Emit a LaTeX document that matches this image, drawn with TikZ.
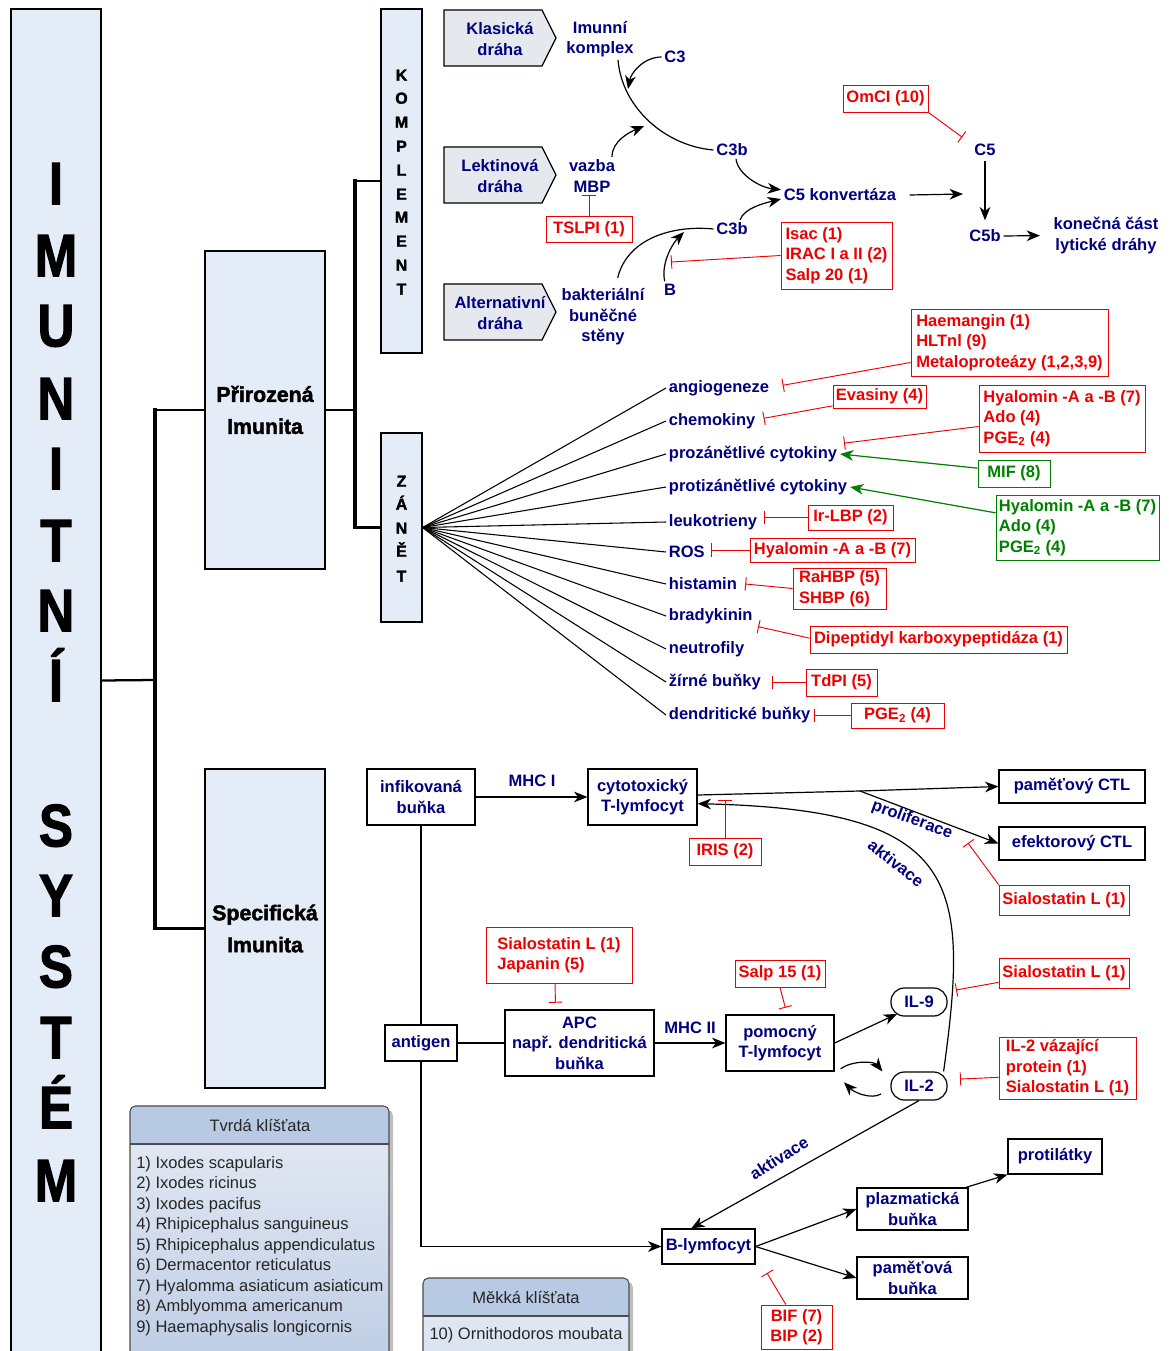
\documentclass[tikz,border=0pt]{standalone}
\usepackage{fontspec}
\setmainfont{Liberation Sans}
\newfontface\heavyfont[FakeBold=2]{Liberation Sans Bold}
\usetikzlibrary{arrows.meta,calc}

\definecolor{imnavy}{RGB}{0,0,128}
\definecolor{imred}{RGB}{238,0,0}
\definecolor{imgreen}{RGB}{0,128,0}
\definecolor{boxblue}{RGB}{228,236,247}
\definecolor{pathgray}{RGB}{229,233,238}
\definecolor{leghead}{RGB}{184,201,227}
\definecolor{legtop}{RGB}{224,231,242}
\definecolor{legbot}{RGB}{189,204,228}

\newcommand\basefont{\fontsize{12.4}{15.4}\selectfont}

\tikzset{
  boxw/.style={minimum width=#1*0.75pt},
  boxh/.style={minimum height=#1*0.75pt},
  bigbox/.style={draw, fill=boxblue, line width=0.9pt, align=center, inner sep=0pt,
    font=\fontsize{16}{24}\selectfont\heavyfont},
  bigletter/.style={font=\fontsize{45}{50}\selectfont\heavyfont, text height=32pt, text depth=0pt, inner sep=0pt},
  smallletter/.style={font=\fontsize{12}{14}\selectfont\heavyfont, text height=8.6pt, text depth=0pt, inner sep=0pt},
  pathbox/.style={draw, fill=pathgray, line width=0.9pt},
  lbl/.style={text=imnavy, font=\basefont\bfseries, align=center, inner sep=2pt},
  item/.style={lbl, anchor=west},
  cell/.style={draw, fill=white, line width=0.9pt, text=imnavy, font=\basefont\bfseries, align=center, inner sep=0pt},
  ilnode/.style={cell, rounded corners=10pt},
  redbox/.style={draw=imred, fill=white, text=imred, font=\basefont\bfseries, align=left, inner sep=0pt, line width=0.7pt},
  grnbox/.style={redbox, draw=imgreen, text=imgreen},
  inh/.style={draw=imred, line width=0.7pt, -{Bar[width=10pt, line width=0.7pt]}},
  act/.style={line width=0.9pt, -{Stealth[length=10pt, width=8pt, inset=3pt]}},
  actg/.style={act, draw=imgreen, fill=imgreen},
  wire/.style={line width=0.9pt},
  fan/.style={line width=0.8pt},
  spine/.style={line width=2.4pt, line cap=rect},
  twig/.style={line width=1.7pt},
  legtext/.style={font=\basefont, text=black!85, align=left, inner sep=0pt},
}

\begin{document}
\begin{tikzpicture}[x=0.75pt, y=-0.75pt]
    \useasboundingbox (0,0) rectangle (1169,1351);
    \clip (0,0) rectangle (1169,1351);

    % Main blocks:
    \node[bigbox, boxw=90, boxh=1343] (imsys) at (56,680.5) {};
    \foreach \ch/\yy [count=\n] in {I/183, M/255, U/325, N/398, I/468, T/540, N/610, Í/680,
                                    S/825, Y/895, S/966, T/1037, É/1107, M/1180}
        \node[bigletter] (big\n) at (56,\yy) {\scalebox{0.85}[1]{\ch}};
    \node[bigbox, boxw=120, boxh=318] (prir) at (265,410) {Přirozená\\Imunita};
    \node[bigbox, boxw=120, boxh=319] (spec) at (265,928.5) {Specifická\\Imunita};
    \node[bigbox, boxw=41, boxh=344] (kompl) at (401.5,181) {};
    \node[bigbox, boxw=41, boxh=189] (zanet) at (401.5,527.5) {};
    \foreach \ch/\yy [count=\n] in {K/75, O/98, M/122, P/146, L/170, E/194, M/217, E/241, N/265, T/289}
        \node[smallletter] (kl\n) at (401.5,\yy) {\ch};
    \foreach \ch/\yy [count=\n] in {Z/481, Á/504, N/528, Ě/551, T/576}
        \node[smallletter] (zl\n) at (401.5,\yy) {\ch};

    % Brackets:
    \coordinate (j1) at (155,680);
    \coordinate (j2) at (355,410);
    \draw[twig] (imsys.east) -- (j1);
    \draw[spine] (prir.west -| j1) -- (spec.west -| j1);
    \draw[twig] (prir.west -| j1) -- (prir.west);
    \draw[twig] (spec.west -| j1) -- (spec.west);
    \draw[twig] (prir.east) -- (j2);
    \draw[spine] (kompl.west -| j2) -- (zanet.west -| j2);
    \draw[twig] (kompl.west -| j2) -- (kompl.west);
    \draw[twig] (zanet.west -| j2) -- (zanet.west);

    % Complement:
    \draw[pathbox] (444,10) -- (542,10) -- (556,38) -- (542,66) -- (444,66) -- cycle;
    \draw[pathbox] (444,147) -- (542,147) -- (556,175) -- (542,203) -- (444,203) -- cycle;
    \draw[pathbox] (444,284) -- (542,284) -- (556,312) -- (542,340) -- (444,340) -- cycle;
    \node[lbl] (klas) at (500,39) {Klasická\\dráha};
    \node[lbl] (lekt) at (500,176) {Lektinová\\dráha};
    \node[lbl] (alte) at (500,313) {Alternativní\\dráha};
    \node[lbl] (imk) at (600,39) {Imunní\\komplex};
    \node[lbl] (c3) at (675,57) {C3};
    \node[lbl] (vazba) at (592,176) {vazba\\MBP};
    \node[lbl] (c3bu) at (732,150) {C3b};
    \node[lbl] (c3bl) at (732,229) {C3b};
    \node[lbl] (c5k) at (840,195) {C5 konvertáza};
    \node[lbl] (bakt) at (603,317) {bakteriální\\buněčné\\stěny};
    \node[lbl] (bB) at (670,290) {B};
    \node[lbl] (c5) at (985,150) {C5};
    \node[lbl] (c5b) at (985,236) {C5b};
    \node[lbl] (kon) at (1106,235.5) {konečná část\\lytické dráhy};
    \node[redbox, boxw=86, boxh=26] (tslpi) at (589,229) {TSLPI (1)};
    \node[redbox, boxw=111, boxh=67] (isac) at (836.5,255.5) {Isac (1)\\IRAC I a II (2)\\Salp 20 (1)};
    \node[redbox, boxw=85, boxh=27] (omci) at (885.5,98.5) {OmCI (10)};
    \coordinate (c3hit) at (628,89);
    \coordinate (mbphit) at (644,126);
    \coordinate (althit) at (684,232);
    \coordinate (isacbar) at (671,262);
    \coordinate (c5in) at (963,194);

    \draw[wire] ([xshift=13.5pt]imk.south) .. controls +(4,48) and +(-48,-4) .. (c3bu.west);
    \draw[act] (c3.west) .. controls +(-18,0) and +(3,-16) .. (c3hit);
    \draw[act] ([xshift=15pt]vazba.north) .. controls +(0,-16) and +(-14,6) .. (mbphit);
    \draw[act] ([xshift=3pt]c3bu.south) .. controls +(2,16) and +(-20,-2) .. ([yshift=4pt]c5k.west);
    \draw[act] ([xshift=6pt]c3bl.north) .. controls +(4,-12) and +(-16,4) .. ([yshift=-3pt]c5k.west);
    \draw[wire] ([xshift=11pt,yshift=6pt]bakt.north) .. controls +(10,-40) and +(-40,-4) .. (c3bl.west);
    \draw[act] ([xshift=-4pt]bB.north) .. controls +(-4,-20) and +(-10,10) .. (althit);
    \draw[inh] (isac.west) -- (isacbar);
    \draw[inh] (tslpi.north) -- (tslpi.north |- vazba.south);
    \draw[act] ([xshift=8pt]c5k.east) -- (c5in);
    \draw[act, shorten <=2pt, shorten >=5pt] (c5.south) -- (c5b.north);
    \draw[act, shorten >=8pt] (c5b.east) -- (kon.west);
    \draw[inh] (omci.south east) -- ([xshift=-7pt,yshift=3pt]c5.north west);

    % Inflammation:
    \node[item] (angio) at (666,388) {angiogeneze};
    \node[item] (chemo) at (666,421) {chemokiny};
    \node[item] (prozan) at (666,454) {prozánětlivé cytokiny};
    \node[item] (protiz) at (666,487) {protizánětlivé cytokiny};
    \node[item] (leuko) at (666,522) {leukotrieny};
    \node[item] (ros) at (666,552) {ROS};
    \node[item] (hist) at (666,584) {histamin};
    \node[item] (brady) at (666,616) {bradykinin};
    \node[item] (neutro) at (666,649) {neutrofily};
    \node[item] (zirne) at (666,682) {žírné buňky};
    \node[item] (dendr) at (666,715) {dendritické buňky};
    \foreach \itm in {angio,chemo,prozan,protiz,leuko,ros,hist,brady,neutro,zirne,dendr}
        \draw[fan] (zanet.east) -- (\itm.west);

    \node[redbox, boxw=197, boxh=67] (haem) at (1009.5,342.5) {Haemangin (1)\\HLTnl (9)\\Metaloproteázy (1,2,3,9)};
    \node[redbox, boxw=93, boxh=23] (evas) at (879.5,396.5) {Evasiny (4)};
    \node[redbox, boxw=166, boxh=67] (hyalr) at (1062,418.5) {Hyalomin -A a -B (7)\\Ado (4)\\PGE\textsubscript{2} (4)};
    \node[grnbox, boxw=72, boxh=27] (mif) at (1014,473.5) {MIF (8)};
    \node[grnbox, boxw=163, boxh=65] (hyalg) at (1077.5,527.5) {Hyalomin -A a -B (7)\\Ado (4)\\PGE\textsubscript{2} (4)};
    \node[redbox, boxw=85, boxh=25] (irlbp) at (850.5,517.5) {Ir-LBP (2)};
    \node[redbox, boxw=165, boxh=24] (hyals) at (832.5,550) {Hyalomin -A a -B (7)};
    \node[redbox, boxw=93, boxh=41] (rahbp) at (839.5,588.5) {RaHBP (5)\\SHBP (6)};
    \node[redbox, boxw=257, boxh=27] (dipep) at (938.5,639.5) {Dipeptidyl karboxypeptidáza (1)};
    \node[redbox, boxw=71, boxh=27] (tdpi) at (841.5,682.5) {TdPI (5)};
    \node[redbox, boxw=93, boxh=25] (pge) at (897.5,715.5) {PGE\textsubscript{2} (4)};

    \draw[inh] ([yshift=-15pt]haem.west) -- ([xshift=8pt,yshift=2pt]angio.east);
    \draw[inh] ([yshift=-7pt]evas.west) -- ([xshift=4pt,yshift=2pt]chemo.east);
    \draw[inh] ([yshift=-6pt]hyalr.west) -- ([xshift=3pt]prozan.north east);
    \draw[actg] ([yshift=4pt]mif.west) -- (prozan.east);
    \draw[actg] ([yshift=11pt]hyalg.west) -- (protiz.east);
    \draw[inh] (irlbp.west) -- ($(leuko.east |- irlbp.west)+(4,0)$);
    \draw[inh] (hyals.west) -- ($(ros.east |- hyals.west)+(3,0)$);
    \draw[inh] (rahbp.west) -- ([xshift=4pt]hist.east);
    \draw[inh] ([yshift=1pt]dipep.west) -- ([xshift=2pt]brady.south east);
    \draw[inh] (tdpi.west) -- ($(zirne.east |- tdpi.west)+(8,0)$);
    \draw[inh] (pge.west) -- ($(dendr.east |- pge.west)+(1,0)$);

    % Specific immunity:
    \node[cell, boxw=108, boxh=56] (infik) at (421,797) {infikovaná\\buňka};
    \node[cell, boxw=109, boxh=56] (cyt) at (642.5,797) {cytotoxický\\T-lymfocyt};
    \node[cell, boxw=146, boxh=33] (pamctl) at (1072,786.5) {paměťový CTL};
    \node[cell, boxw=146, boxh=33] (efctl) at (1072,843.5) {efektorový CTL};
    \node[cell, boxw=72, boxh=36] (antig) at (421,1043) {antigen};
    \node[cell, boxw=149, boxh=66] (apc) at (579.5,1043) {APC\\např. dendritická\\buňka};
    \node[cell, boxw=108, boxh=56] (pom) at (780,1043) {pomocný\\T-lymfocyt};
    \node[ilnode, boxw=56, boxh=28] (il9) at (919,1002) {IL-9};
    \node[ilnode, boxw=56, boxh=28] (il2) at (919,1086) {IL-2};
    \node[cell, boxw=93, boxh=35] (blym) at (708.5,1246.5) {B-lymfocyt};
    \node[cell, boxw=111, boxh=42] (plazm) at (912.5,1209) {plazmatická\\buňka};
    \node[cell, boxw=111, boxh=42] (pamb) at (912.5,1278) {paměťová\\buňka};
    \node[cell, boxw=94, boxh=35] (protil) at (1055,1156.5) {protilátky};

    \node[redbox, boxw=72, boxh=27] (iris) at (725,851.5) {IRIS (2)};
    \node[redbox, boxw=130, boxh=30] (sial1) at (1064,900) {Sialostatin L (1)};
    \node[redbox, boxw=130, boxh=30] (sial2) at (1064,973) {Sialostatin L (1)};
    \node[redbox, boxw=137, boxh=62] (il2bp) at (1067.5,1068) {IL-2 vázající\\protein (1)\\Sialostatin L (1)};
    \node[redbox, boxw=90, boxh=27] (salp) at (780,973.5) {Salp 15 (1)};
    \node[redbox, boxw=146, boxh=56] (sjap) at (559,955) {Sialostatin L (1)\\Japanin (5)};
    \node[redbox, boxw=71, boxh=44, align=center] (bif) at (796.5,1327) {BIF (7)\\BIP (2)};

    \node[lbl] (mhc1) at (532,781) {MHC I};
    \node[lbl] (mhc2) at (690,1028) {MHC II};
    \node[lbl, rotate=-20] (prolif) at (912,820) {proliferace};
    \node[lbl, rotate=-38] (aktiv1) at (896,863) {aktivace};
    \node[lbl, rotate=32] (aktiv2) at (779,1158) {aktivace};

    \coordinate (split) at (860,791);
    \coordinate (irisbar) at (725,800);
    \coordinate (sibar1) at (968,843);
    \coordinate (sibar2) at (956,990);
    \coordinate (sibar3) at (960,1079);
    \coordinate (bifbar) at (767,1273);

    \draw[act] (infik.east) -- (cyt.west);
    \draw[wire] ([yshift=1.5pt]cyt.east) -- (split);
    \draw[act] (split) -- (pamctl.west);
    \draw[act] (split) -- (efctl.west);
    \draw[act] ([xshift=-3pt]il2.north east) .. controls (970,880) and (960,810) .. ([yshift=-5pt]cyt.east);
    \draw[inh] (iris.north) -- (irisbar);
    \draw[inh] (sial1.north west) -- (sibar1);
    \draw[inh] ([yshift=-7pt]sial2.west) -- (sibar2);
    \draw[inh] ([yshift=-7pt]il2bp.west) -- (sibar3);

    \draw[wire] (infik.south) -- (antig.north);
    \draw[wire] (antig.east) -- (apc.west);
    \draw[act] (antig.south) |- (blym.west);
    \draw[act] (apc.east) -- (pom.west);
    \draw[inh] (salp.south) -- ([xshift=4pt,yshift=5pt]pom.north);
    \draw[inh] ([xshift=-3pt]sjap.south) -- ([xshift=-18pt,yshift=5pt]apc.north);
    \draw[act] (pom.east) -- ([xshift=5pt,yshift=2pt]il9.south west);
    \draw[act] ([xshift=4.5pt,yshift=2pt]pom.south east) .. controls +(12,-9) and +(-8,-10) .. ([xshift=-6pt]il2.north west);
    \draw[act] ([xshift=-7pt,yshift=5pt]il2.south west) .. controls +(-10,6) and +(10,10) .. ([xshift=7pt,yshift=-8pt]pom.south east);
    \draw[act] (il2.south) -- ([xshift=-13pt]blym.north);
    \draw[act] (blym.east) -- (plazm.west);
    \draw[act] (blym.east) -- (pamb.west);
    \draw[act] ([xshift=-2pt]plazm.north east) -- (protil.south west);
    \draw[inh] ([xshift=-8pt]bif.north) -- (bifbar);

    % Legends:
    \fill[black!25, rounded corners=4pt] (134,1110) rectangle (393,1370);
    \fill[leghead, rounded corners=4pt] (130,1106) rectangle (389,1370);
    \shade[top color=legtop, bottom color=legbot] (130,1144) rectangle (389,1370);
    \draw[line width=0.8pt, draw=black!70, rounded corners=4pt] (130,1106) rectangle (389,1370);
    \draw[line width=0.8pt, draw=black!70] (130,1144) -- (389,1144);
    \node[legtext] (hardt) at (260,1125.5) {Tvrdá klíšťata};
    \node[legtext, anchor=west] (hardl) at (136,1246) {1) Ixodes scapularis\\2) Ixodes ricinus\\3) Ixodes pacifus\\4) Rhipicephalus sanguineus\\5) Rhipicephalus appendiculatus\\6) Dermacentor reticulatus\\7) Hyalomma asiaticum asiaticum\\8) Amblyomma americanum\\9) Haemaphysalis longicornis};

    \fill[black!25, rounded corners=4pt] (427,1282) rectangle (633,1370);
    \fill[leghead, rounded corners=4pt] (423,1278) rectangle (629,1370);
    \shade[top color=legtop, bottom color=legtop!80!legbot] (423,1316) rectangle (629,1370);
    \draw[line width=0.8pt, draw=black!70, rounded corners=4pt] (423,1278) rectangle (629,1370);
    \draw[line width=0.8pt, draw=black!70] (423,1316) -- (629,1316);
    \node[legtext] (softt) at (526,1297.5) {Měkká klíšťata};
    \node[legtext] (softl) at (526,1335) {10) Ornithodoros moubata};
\end{tikzpicture}
\end{document}
